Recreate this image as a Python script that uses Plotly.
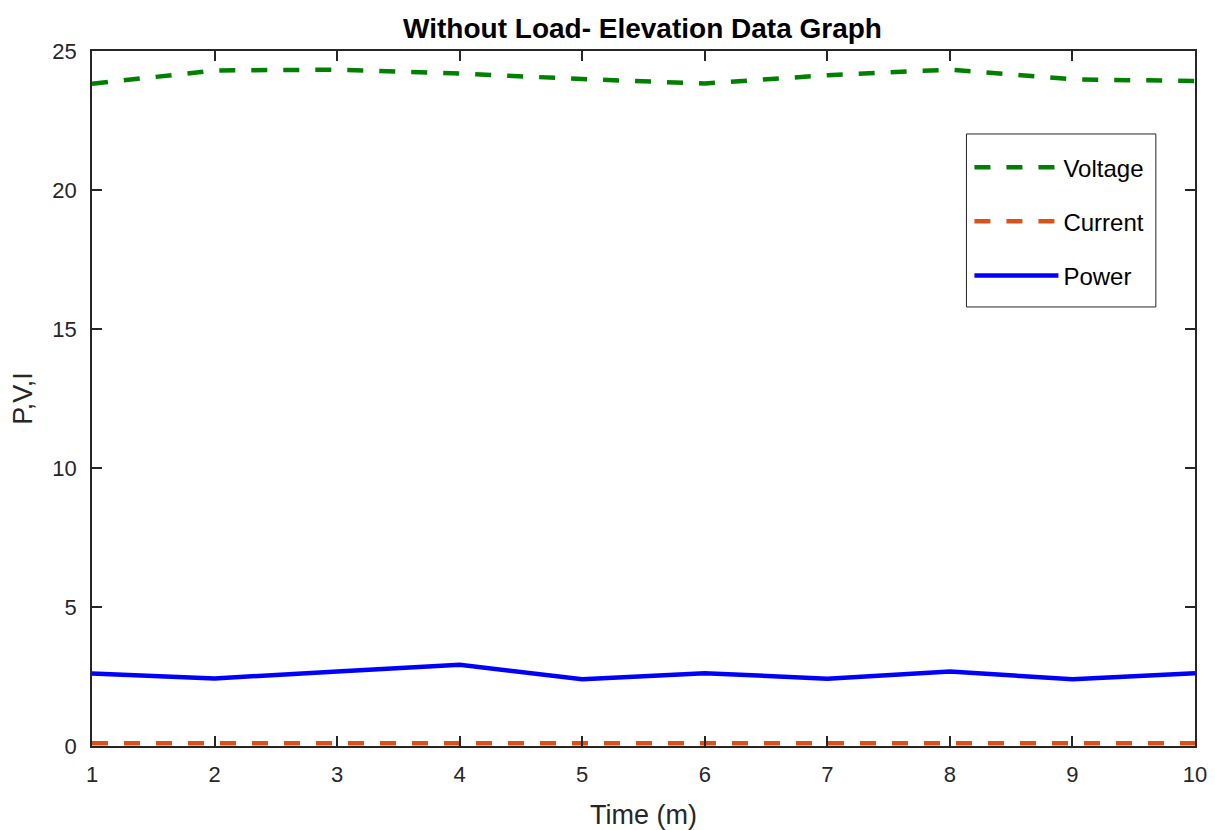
import plotly.graph_objects as go

time_m = [1, 2, 3, 4, 5, 6, 7, 8, 9, 10]
voltage = [23.82, 24.30, 24.33, 24.19, 23.99, 23.83, 24.13, 24.33, 23.98, 23.92]
current = [0.10, 0.10, 0.10, 0.12, 0.10, 0.10, 0.10, 0.11, 0.10, 0.10]
power = [2.61, 2.43, 2.68, 2.92, 2.40, 2.62, 2.42, 2.68, 2.40, 2.62]

AX = "#262626"
FONT = "Liberation Sans, Arial, sans-serif"

fig = go.Figure()
fig.add_trace(go.Scatter(x=time_m, y=voltage, mode="lines", name="Voltage", legendgroup="v",
                         line=dict(color="#008000", width=4.5, dash="16px,16px")))
fig.add_trace(go.Scatter(x=time_m, y=current, mode="lines", name="Current", legendgroup="c",
                         line=dict(color="#D95319", width=4.5, dash="16px,16px")))
fig.add_trace(go.Scatter(x=time_m, y=power, mode="lines", name="Power", legendgroup="p",
                         line=dict(color="#0000FF", width=4.5)))

axis_common = dict(showgrid=False, zeroline=False, showline=True, linecolor=AX, linewidth=1.5,
                   mirror="ticks", ticks="inside", ticklen=10, tickwidth=1.5, tickcolor=AX,
                   automargin=False,
                   tickfont=dict(family=FONT, size=22, color=AX))

fig.update_layout(
    width=1207, height=822,
    paper_bgcolor="white", plot_bgcolor="white",
    margin=dict(l=84, r=20, t=43, b=84),
    title=dict(text="<b>Without Load- Elevation Data Graph</b>", x=0.5257, xanchor="center",
               xref="container", yref="container",
               y=0.9757, yanchor="middle", font=dict(family=FONT, size=28, color="black")),
    xaxis=dict(range=[1, 10], tickvals=list(range(1, 11)), ticklabelstandoff=8,
               title=dict(text="Time (m)", font=dict(family=FONT, size=27, color=AX), standoff=25),
               **axis_common),
    yaxis=dict(range=[0, 25], tickvals=[0, 5, 10, 15, 20, 25], ticklabelstandoff=9,
               title=dict(text="P,V,I", font=dict(family=FONT, size=27, color=AX), standoff=15),
               **axis_common),
    legend=dict(x=0.7955, y=0.8647, xanchor="left", yanchor="top",
                bgcolor="rgba(0,0,0,0)", borderwidth=0,
                font=dict(family=FONT, size=24, color="black"),
                tracegroupgap=20, itemwidth=84),
    shapes=[dict(type="rect", xref="paper", yref="paper", x0=0.7928, x1=0.9645, y0=0.6317, y1=0.8806,
                 line=dict(color=AX, width=1), fillcolor="rgba(0,0,0,0)", layer="below")],
    showlegend=True,
)

fig.write_html("out.html")
